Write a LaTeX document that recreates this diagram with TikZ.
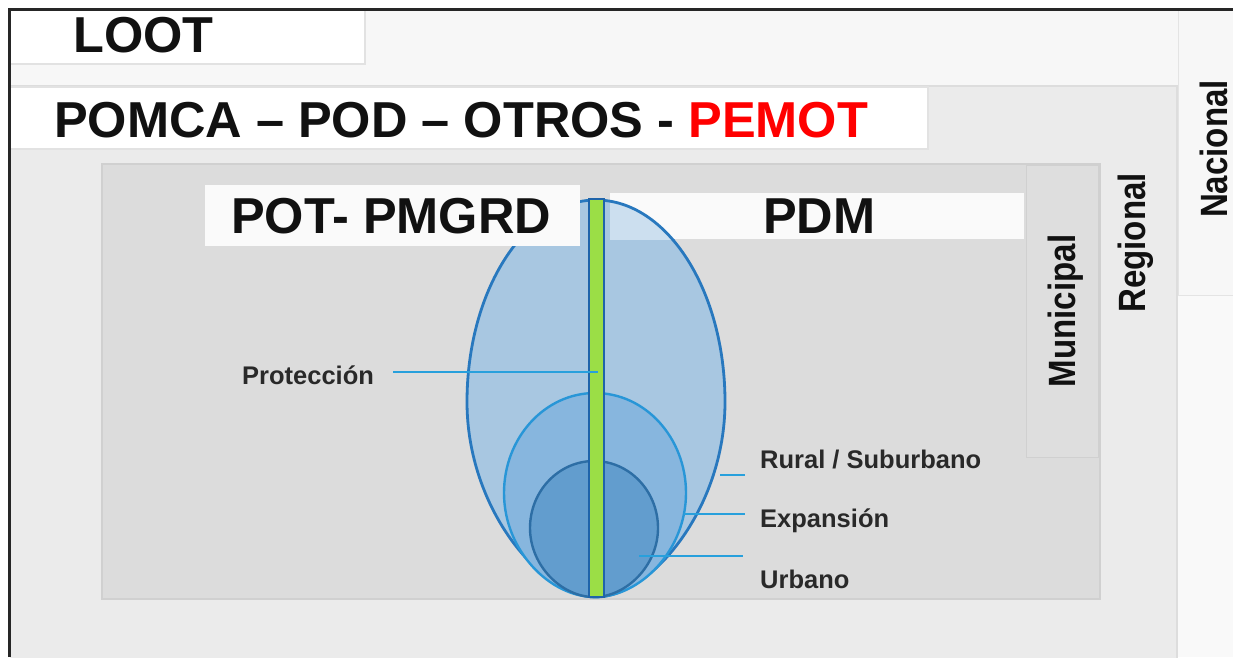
\documentclass[tikz,border=0pt]{standalone}
\usepackage{fontspec}
\usepackage{graphicx}
\setmainfont{Liberation Sans}
\definecolor{bgouter}{HTML}{F7F7F7}
\definecolor{bgright}{HTML}{F9F9F9}
\definecolor{bgreg}{HTML}{EBEBEB}
\definecolor{bgmun}{HTML}{DCDCDC}
\definecolor{bgmunlab}{HTML}{DEDEDE}
\definecolor{edgelight}{HTML}{E4E4E4}
\definecolor{edgereg}{HTML}{DDDDDD}
\definecolor{edgebox}{HTML}{E2E2E2}
\definecolor{edgemun}{HTML}{D0D0D0}
\definecolor{eggA}{HTML}{A8C7E1}
\definecolor{eggAlight}{HTML}{CCDFEF}
\definecolor{eggB}{HTML}{87B6DE}
\definecolor{eggC}{HTML}{629DCE}
\definecolor{lineA}{HTML}{2878BE}
\definecolor{lineB}{HTML}{2896D7}
\definecolor{lineC}{HTML}{2D6EA5}
\definecolor{barg}{HTML}{9BDE46}
\definecolor{barline}{HTML}{1F64AA}
\definecolor{leadblue}{HTML}{28A0DC}
\definecolor{pemot}{HTML}{FF0000}
\definecolor{txt}{HTML}{111111}
\begin{document}
\begin{tikzpicture}[x=1pt,y=-1pt,
  hdr/.style={font=\fontsize{50.5}{60}\selectfont\bfseries, text=txt, inner sep=0pt, anchor=base west},
  lvl/.style={font=\fontsize{38}{44}\selectfont\bfseries, text=txt, inner sep=0pt, rotate=90, anchor=base},
  lbl/.style={font=\fontsize{25.5}{30}\selectfont\bfseries, text=txt!90, inner sep=0pt, anchor=base west},
  leader/.style={draw=leadblue, line width=2.2pt},
  whitebox/.style={fill=white, draw=edgebox, line width=2pt},
  eggbig/.style={fill=eggA, draw=lineA, line width=2.8pt},
  eggmid/.style={fill=eggB, draw=lineB, line width=2.4pt},
  egginn/.style={fill=eggC, draw=lineC, line width=2.4pt},
]
\useasboundingbox (0,0) rectangle (1233,657);
\fill[white] (0,0) rectangle (1233,657);
\begin{scope}
\clip (10,10) rectangle (1233,657);
% national level background
\fill[bgouter] (10,10) rectangle (1233,657);
\fill[bgright] (1178,295) rectangle (1233,657);
\draw[fill=bgouter, draw=edgelight, line width=1pt] (1178,5) rectangle (1240,295);
% regional level
\draw[fill=bgreg, draw=edgereg, line width=1.2pt] (5,86) rectangle (1177,670);
% LOOT and POMCA boxes
\draw[whitebox] (5,5) rectangle (365,64);
\draw[whitebox] (5,87) rectangle (928,149);
% municipal level
\draw[fill=bgmun, draw=edgemun, line width=1.5pt] (102,164) rectangle (1100,599);
\draw[fill=bgmunlab, draw=edgemun, line width=1pt] (1026,165) rectangle (1098,457);
% PDM box (behind the lightened egg part)
\fill[white!98!black] (610,193) rectangle (1024,239);
% eggs
\draw[eggbig] (596,200) .. controls (667.2,200) and (725,290.4) .. (725,402)
  .. controls (725,509.25) and (650.2,597) .. (596,597)
  .. controls (541.8,597) and (467,509.25) .. (467,402)
  .. controls (467,290.4) and (524.8,200) .. (596,200) -- cycle;
\begin{scope}
  \clip (610,193) rectangle (1024,239);
  \fill[white!98!black] (610,193) rectangle (1024,239);
  \draw[fill=eggAlight, draw=lineA, line width=2.8pt] (596,200) .. controls (667.2,200) and (725,290.4) .. (725,402) -- (596,402) -- cycle;
\end{scope}
\draw[eggmid] (595,393) .. controls (645.3,393) and (686,437.8) .. (686,493)
  .. controls (686,550.2) and (640.5,597) .. (595,597)
  .. controls (549.5,597) and (504,550.2) .. (504,493)
  .. controls (504,437.8) and (544.7,393) .. (595,393) -- cycle;
\draw[egginn] (594,461) .. controls (629.3,461) and (658,491) .. (658,528)
  .. controls (658,566) and (626,597) .. (594,597)
  .. controls (562,597) and (530,566) .. (530,528)
  .. controls (530,491) and (558.7,461) .. (594,461) -- cycle;
% green bar
\draw[fill=barg, draw=barline, line width=2.2pt] (589,199) rectangle (604,597);
% POT box
\fill[white!98!black] (205,185) rectangle (580,246);
% leader lines
\coordinate (protA) at (393,372);
\coordinate (protB) at (598,372);
\coordinate (ruralA) at (720,475);
\coordinate (ruralB) at (745,475);
\coordinate (expA) at (684,514);
\coordinate (expB) at (745,514);
\coordinate (urbA) at (639,556);
\coordinate (urbB) at (743,556);
\draw[leader] (protA) -- (protB);
\draw[leader] (ruralA) -- (ruralB);
\draw[leader] (expA) -- (expB);
\draw[leader] (urbA) -- (urbB);
\end{scope}
% frame
\draw[black!85, line width=3pt] (9,657) -- (9,9) -- (1233,9);
% texts
\node[hdr] (loot) at (73,52) {LOOT};
\node[hdr] (pomca) at (54,137) {POMCA – POD – OTROS - \textcolor{pemot}{PEMOT}};
\node[hdr] (pot) at (231,233) {POT- PMGRD};
\node[hdr] (pdm) at (763,233) {PDM};
\node[lvl] (nacional) at (1227,149) {\scalebox{0.87}[1]{Nacional}};
\node[lvl] (regional) at (1145,243) {\scalebox{0.87}[1]{Regional}};
\node[lvl] (municipal) at (1075,311) {\scalebox{0.87}[1]{Municipal}};
\node[lbl] (prot) at (242,384) {Protección};
\node[lbl] (rural) at (760,468) {Rural / Suburbano};
\node[lbl] (exp) at (760,527) {Expansión};
\node[lbl] (urb) at (760,588) {Urbano};
\end{tikzpicture}
\end{document}
